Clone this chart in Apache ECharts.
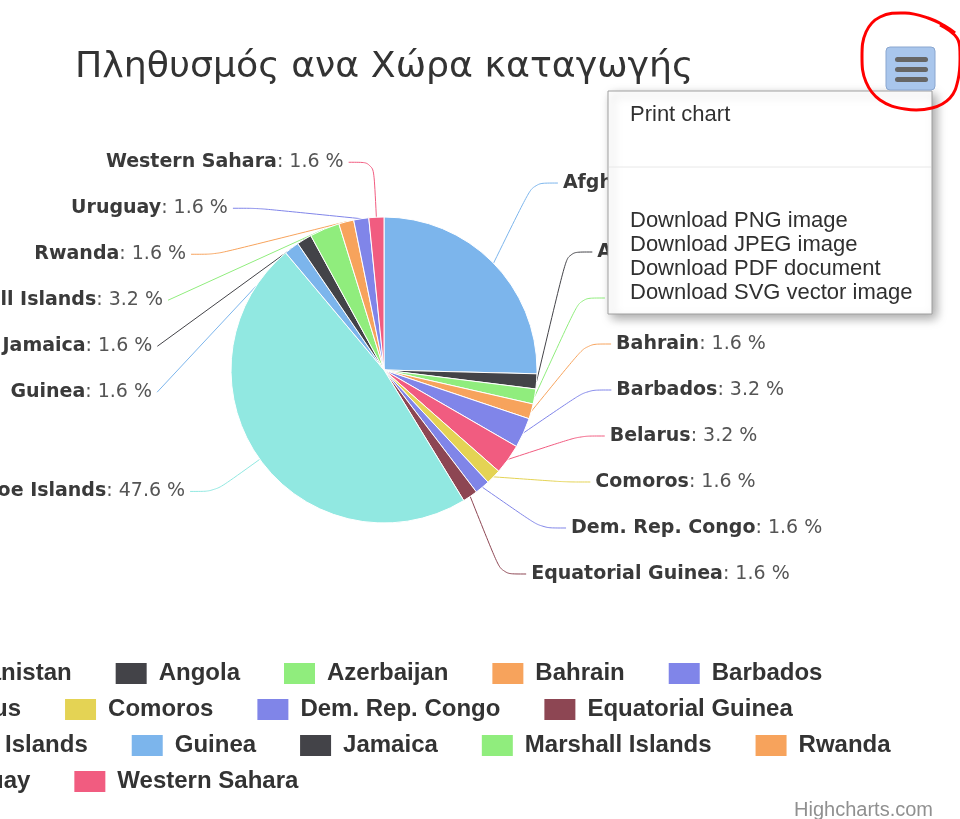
<!DOCTYPE html>
<html>
<head>
<meta charset="utf-8">
<script src="https://cdn.jsdelivr.net/npm/echarts@6/dist/echarts.min.js"></script>
<style>
  html, body { margin: 0; padding: 0; background: #fff; }
  #chart { width: 960px; height: 819px; }
</style>
</head>
<body>
<div id="chart"></div>
<script>
// χώρες και πλήθος ατόμων
const countries = ['Afghanistan', 'Angola', 'Azerbaijan', 'Bahrain', 'Barbados',
    'Belarus', 'Comoros', 'Dem. Rep. Congo', 'Equatorial Guinea',
    'Faroe Islands', 'Guinea', 'Jamaica', 'Marshall Islands', 'Rwanda',
    'Uruguay', 'Western Sahara'];
const people = [16, 1, 1, 1, 2, 2, 1, 1, 1, 30, 1, 1, 2, 1, 1, 1];
const colors = ['#7cb5ec', '#434348', '#90ed7d', '#f7a35c', '#8085e9',
    '#f15c80', '#e4d354', '#8085e8', '#8d4653', '#91e8e1'];

// γραμμές του υπομνήματος όπως στο πρωτότυπο
const legendRows = [
    ['Afghanistan', 'Angola', 'Azerbaijan', 'Bahrain', 'Barbados'],
    ['Belarus', 'Comoros', 'Dem. Rep. Congo', 'Equatorial Guinea'],
    ['Faroe Islands', 'Guinea', 'Jamaica', 'Marshall Islands', 'Rwanda'],
    ['Uruguay', 'Western Sahara']
];
const menuItems = ['Download PNG image', 'Download JPEG image',
    'Download PDF document', 'Download SVG vector image'];

const total = people.reduce((a, b) => a + b, 0);

const chart = echarts.init(document.getElementById('chart'));

const legends = legendRows.map((row, i) => ({
    data: row,
    orient: 'horizontal',
    left: -112,
    top: 661 + i * 36,
    padding: 0,
    itemWidth: 33,
    itemHeight: 23,
    itemGap: 42,
    icon: 'rect',
    textStyle: {
        fontFamily: 'Liberation Sans',
        fontSize: 24,
        fontWeight: 'bold',
        color: '#333',
        padding: [0, 0, 0, 6]
    }
}));

const menuGraphics = [
    {
        type: 'rect', z: 100,
        shape: { x: 608, y: 91, width: 324, height: 223 },
        style: {
            fill: '#fff', stroke: '#a0a0a0', lineWidth: 1,
            shadowBlur: 10, shadowOffsetX: 4, shadowOffsetY: 4,
            shadowColor: 'rgba(0,0,0,0.35)'
        }
    },
    {
        type: 'line', z: 101,
        shape: { x1: 609, y1: 167, x2: 931, y2: 167 },
        style: { stroke: '#e8e8e8', lineWidth: 1 }
    },
    {
        type: 'text', z: 101, x: 630, y: 115,
        style: {
            text: 'Print chart', fill: '#303030',
            font: '22px "Liberation Sans"', textVerticalAlign: 'middle'
        }
    }
].concat(menuItems.map((t, i) => ({
    type: 'text', z: 101, x: 630, y: 221 + i * 24,
    style: {
        text: t, fill: '#303030',
        font: '22px "Liberation Sans"', textVerticalAlign: 'middle'
    }
}))).concat([
    {
        type: 'rect', z: 100,
        shape: { x: 886, y: 47, width: 49, height: 43, r: 4 },
        style: { fill: '#a9c6ec', stroke: '#8aa6cf', lineWidth: 1 }
    }
]).concat([57, 67, 77].map(y => ({
    type: 'rect', z: 101,
    shape: { x: 895, y: y, width: 33, height: 5, r: 2.5 },
    style: { fill: '#666' }
}))).concat([
    {
        type: 'polyline', z: 102,
        shape: {
            points: [[955, 33], [945, 26], [928, 18], [905, 13], [880, 17],
                [866, 32], [862, 57], [866, 82], [880, 100], [905, 109],
                [932, 108], [950, 98], [958, 80], [960, 55], [957, 38], [940, 25]],
            smooth: 0.4
        },
        style: { stroke: '#ff0000', lineWidth: 3, fill: null }
    },
    {
        type: 'text', z: 100, x: 933, y: 810,
        style: {
            text: 'Highcharts.com', fill: '#909090',
            font: '20px "Liberation Sans"',
            textAlign: 'right', textVerticalAlign: 'middle'
        }
    }
]);

const option = {
    animation: false,
    color: colors,
    title: {
        text: 'Πληθυσμός ανα Χώρα καταγωγής',
        left: 70,
        top: 45,
        textStyle: {
            fontFamily: 'DejaVu Sans',
            fontSize: 36.3,
            fontWeight: 'normal',
            color: '#333'
        }
    },
    legend: legends,
    graphic: menuGraphics,
    series: [{
        type: 'pie',
        left: 0,
        top: 0,
        width: 960,
        height: 597,
        center: [384, 370],
        radius: 153,
        data: countries.map((c, i) => ({ name: c, value: people[i] })),
        itemStyle: { borderColor: '#fff', borderWidth: 1 },
        label: {
            position: 'outside',
            overflow: 'none',
            minMargin: 27,
            formatter: p => '{n|' + p.name + '}{v|: ' + (p.value / total * 100).toFixed(1) + ' %}',
            rich: {
                n: { fontFamily: 'DejaVu Sans', fontSize: 19, fontWeight: 'bold', color: '#3a3a3a' },
                v: { fontFamily: 'DejaVu Sans', fontSize: 19, color: '#555' }
            }
        },
        labelLine: {
            length: 55,
            length2: 25,
            smooth: 0.3,
            lineStyle: { width: 1 }
        },
        emphasis: { disabled: true }
    }]
};

chart.setOption(option);
</script>
</body>
</html>
